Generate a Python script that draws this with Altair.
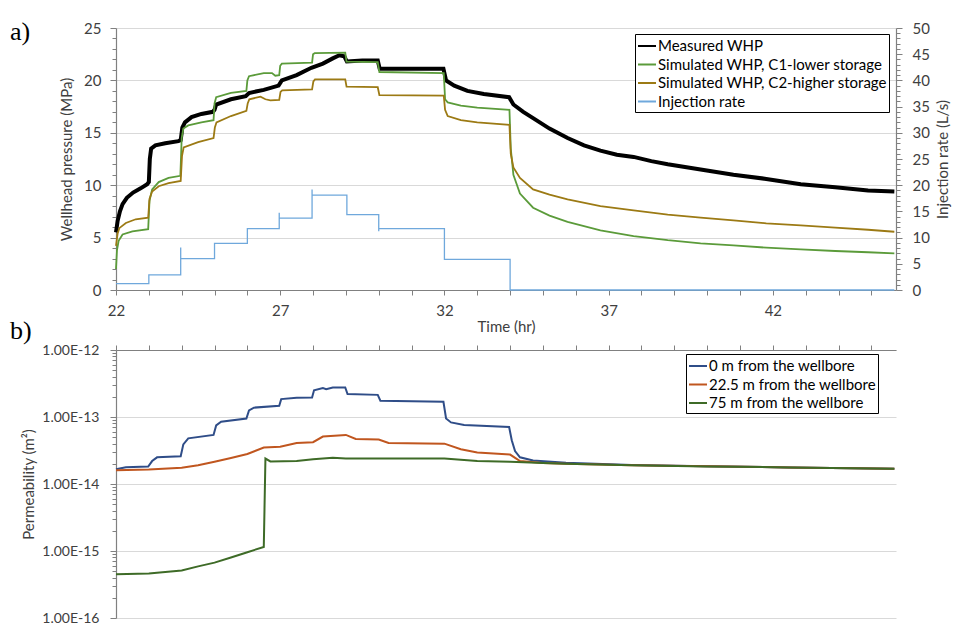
import altair as alt
import pandas as pd

FONT = "Lato"
AXIS_GREY = "#808080"
TEXT = "#404040"
GRID = "#d9d9d9"

# ---------------- a) wellhead pressure and injection rate ----------------
measured_t = [22.0, 22.05, 22.12, 22.2, 22.33, 22.52, 22.75, 22.95, 23.0, 23.03, 23.07, 23.2, 23.5,
              23.9, 23.97, 24.02, 24.1, 24.3, 24.6, 24.95, 25.0, 25.05, 25.5, 25.95, 26.05, 26.5,
              26.95, 27.05, 27.5, 27.95, 28.3, 28.6, 28.8, 28.95, 29.03, 29.5, 29.97, 30.03, 31.0,
              31.97, 32.05, 32.3, 32.7, 33.2, 33.97, 34.1, 34.4, 34.7, 35.2, 35.75, 36.25, 36.75,
              37.25, 37.76, 38.3, 38.8, 39.8, 40.8, 41.8, 42.85, 43.9, 44.9, 45.7]
measured_p = [5.5, 6.6, 7.5, 8.2, 8.8, 9.3, 9.7, 10.1, 10.3, 12.5, 13.5, 13.8, 14.0,
              14.2, 14.3, 15.5, 16.0, 16.5, 16.8, 17.0, 17.2, 17.7, 18.2, 18.5, 18.8, 19.1,
              19.5, 20.0, 20.5, 21.2, 21.6, 22.1, 22.4, 22.3, 21.8, 21.9, 21.9, 21.1, 21.1,
              21.1, 20.0, 19.5, 19.0, 18.7, 18.4, 17.7, 17.0, 16.4, 15.4, 14.5, 13.8, 13.3,
              12.9, 12.7, 12.3, 12.0, 11.5, 11.0, 10.6, 10.1, 9.8, 9.5, 9.4]

c1_t = [22.0, 22.03, 22.08, 22.2, 22.5, 22.98, 23.02, 23.1, 23.3, 23.6, 23.96, 24.0, 24.05, 24.2,
        24.6, 24.97, 25.0, 25.05, 25.5, 25.97, 26.0, 26.05, 26.5, 26.75, 26.85, 26.97, 27.0, 27.05,
        27.97, 28.0, 28.05, 28.98, 29.02, 29.97, 30.02, 31.98, 32.02, 32.1, 32.5, 33.0, 33.98,
        34.02, 34.1, 34.3, 34.7, 35.2, 35.75, 36.75, 37.76, 38.8, 39.8, 40.8, 41.8, 42.85, 43.9,
        44.9, 45.7]
c1_p = [2.0, 3.8, 4.7, 5.3, 5.6, 5.8, 8.5, 9.6, 10.3, 10.7, 10.9, 14.5, 15.4, 15.7,
        16.0, 16.2, 17.8, 18.4, 18.8, 19.0, 20.0, 20.4, 20.7, 20.7, 20.45, 20.5, 21.4, 21.6,
        21.7, 22.5, 22.6, 22.65, 21.8, 21.75, 20.8, 20.7, 18.2, 17.9, 17.6, 17.4, 17.2,
        13.5, 11.0, 9.2, 7.85, 7.1, 6.5, 5.7, 5.15, 4.75, 4.45, 4.25, 4.04, 3.88, 3.72,
        3.6, 3.5]

c2_t = [22.0, 22.05, 22.1, 22.3, 22.6, 22.98, 23.02, 23.1, 23.3, 23.6, 23.97, 24.01, 24.06, 24.5,
        24.97, 25.01, 25.06, 25.5, 25.97, 26.01, 26.06, 26.4, 26.55, 26.7, 26.97, 27.01, 27.06,
        27.97, 28.01, 28.06, 28.98, 29.02, 29.97, 30.02, 31.98, 32.02, 32.1, 32.5, 33.0, 33.98,
        34.02, 34.1, 34.3, 34.7, 35.2, 35.75, 36.75, 37.76, 38.8, 39.8, 40.8, 41.8, 42.85, 43.9,
        44.9, 45.7]
c2_p = [4.2, 5.4, 5.9, 6.4, 6.75, 6.9, 8.7, 9.4, 9.9, 10.2, 10.4, 12.8, 13.6, 14.1,
        14.5, 15.5, 16.0, 16.6, 17.1, 17.8, 18.2, 18.45, 18.2, 18.1, 18.15, 18.9, 19.05,
        19.15, 19.9, 20.1, 20.1, 19.4, 19.35, 18.6, 18.55, 17.2, 16.6, 16.2, 16.0, 15.75,
        13.0, 11.7, 10.7, 9.6, 9.1, 8.65, 8.0, 7.6, 7.2, 6.9, 6.65, 6.36, 6.17, 5.95,
        5.75, 5.56]

rate_t = [22.0, 23.0, 23.0, 23.97, 23.97, 23.97, 25.0, 25.0, 26.0, 26.0, 26.97, 26.97, 26.97,
          27.97, 27.97, 27.97, 29.03, 29.03, 30.0, 30.0, 30.0, 32.0, 32.0, 34.0, 34.0, 45.7]
rate_q = [1.2, 1.2, 2.9, 2.9, 8.1, 6.0, 6.0, 8.9, 8.9, 11.7, 11.7, 14.75, 13.7,
          13.7, 19.2, 18.1, 18.1, 14.4, 14.4, 11.2, 11.7, 11.7, 5.85, 5.85, 0.0, 0.0]

# ---------------- b) permeability at distance from the wellbore ----------------
k0_t = [22.0, 22.3, 22.98, 23.1, 23.25, 23.97, 24.05, 24.2, 24.97, 25.05, 25.2, 25.97, 26.05,
        26.2, 26.97, 27.03, 27.5, 27.97, 28.03, 28.3, 28.4, 28.6, 28.98, 29.05, 29.97, 30.05,
        31.97, 32.05, 32.2, 32.6, 33.97, 34.05, 34.15, 34.3, 34.7, 35.7, 37.7, 40.0, 42.5, 45.7]
k0_v = [1.66e-14, 1.78e-14, 1.82e-14, 2.2e-14, 2.5e-14, 2.6e-14, 3.9e-14, 4.8e-14, 5.4e-14,
        7.5e-14, 8.5e-14, 9.5e-14, 1.25e-13, 1.38e-13, 1.47e-13, 1.85e-13, 1.93e-13, 1.95e-13,
        2.5e-13, 2.7e-13, 2.6e-13, 2.76e-13, 2.76e-13, 2.2e-13, 2.14e-13, 1.75e-13, 1.69e-13,
        9.5e-14, 8.3e-14, 7.6e-14, 7.1e-14, 4.5e-14, 3.1e-14, 2.5e-14, 2.25e-14, 2.07e-14,
        1.92e-14, 1.84e-14, 1.77e-14, 1.69e-14]

k22_t = [22.0, 23.0, 24.0, 24.5, 25.0, 25.5, 26.0, 26.5, 27.0, 27.5, 28.0, 28.3, 29.0, 29.3,
         30.0, 30.3, 32.0, 32.5, 33.0, 34.0, 34.3, 35.0, 35.7, 37.7, 40.0, 42.5, 45.7]
k22_v = [1.6e-14, 1.65e-14, 1.75e-14, 1.9e-14, 2.15e-14, 2.45e-14, 2.8e-14, 3.5e-14, 3.6e-14,
         4.1e-14, 4.2e-14, 5.1e-14, 5.4e-14, 4.7e-14, 4.6e-14, 4.1e-14, 4.0e-14, 3.3e-14,
         2.95e-14, 2.75e-14, 2.2e-14, 2.05e-14, 2.0e-14, 1.91e-14, 1.84e-14, 1.77e-14, 1.69e-14]

k75_t = [22.0, 23.0, 24.0, 24.5, 25.0, 25.5, 26.0, 26.5, 26.55, 26.7, 27.5, 28.0, 28.6, 29.0,
         30.0, 32.0, 33.0, 34.0, 35.0, 35.7, 37.7, 40.0, 42.5, 45.7]
k75_v = [4.5e-16, 4.6e-16, 5.1e-16, 5.9e-16, 6.7e-16, 8.0e-16, 9.6e-16, 1.15e-15, 2.4e-14,
         2.17e-14, 2.2e-14, 2.35e-14, 2.46e-14, 2.4e-14, 2.4e-14, 2.4e-14, 2.2e-14, 2.14e-14,
         2.05e-14, 2.0e-14, 1.9e-14, 1.83e-14, 1.77e-14, 1.69e-14]

whp_names = ["Measured WHP", "Simulated WHP, C1-lower storage",
             "Simulated WHP, C2-higher storage", "Injection rate"]
whp_colors = ["#000000", "#5B9B3A", "#9C7A14", "#6FA8DC"]
perm_names = ["0 m from the wellbore", "22.5 m from the wellbore", "75 m from the wellbore"]
perm_colors = ["#2F4D88", "#C0561F", "#3E6B27"]

hour_ticks = list(range(22, 46))
pressure_ticks = list(range(0, 26))
rate_ticks = list(range(0, 51))
log_ticks = [m * 10.0 ** d for d in range(-16, -12) for m in range(1, 10)] + [1e-12]


def frame(t, v, name):
    return pd.DataFrame({"time": t, "value": v, "series": name, "idx": range(len(t))})


whp_df = pd.concat([frame(measured_t, measured_p, whp_names[0]),
                    frame(c1_t, c1_p, whp_names[1]),
                    frame(c2_t, c2_p, whp_names[2])])
rate_df = frame(rate_t, rate_q, whp_names[3])
perm_df = pd.concat([frame(k0_t, k0_v, perm_names[0]),
                     frame(k22_t, k22_v, perm_names[1]),
                     frame(k75_t, k75_v, perm_names[2])])

x_scale = alt.Scale(domain=[22, 45.75], nice=False, zero=False)
major5 = "datum.value % 5 === 0"


def legend(x, y):
    return alt.Legend(title=None, orient="none", legendX=x, legendY=y, symbolType="stroke",
                      symbolSize=324, symbolStrokeWidth=2, labelFont=FONT, labelFontSize=15,
                      labelColor="black", labelOffset=1, strokeColor="black", fillColor="white",
                      padding=2, rowPadding=0.5, labelLimit=400)


x_top = alt.X("time:Q", scale=x_scale, title="Time (hr)",
              axis=alt.Axis(values=hour_ticks, labelExpr="(datum.value - 22) % 5 === 0 ? datum.label : ''",
                            labelOverlap=False, labelFlush=False, grid=False, tickSize=5,
                            labelPadding=8, titlePadding=1))
y_pressure = alt.Y("value:Q", scale=alt.Scale(domain=[0, 25], nice=False),
                   title="Wellhead pressure (MPa)",
                   axis=alt.Axis(values=pressure_ticks, labelExpr=f"{major5} ? datum.label : ''",
                                 labelOverlap=False, labelFlush=False,
                                 gridOpacity={"condition": {"test": major5, "value": 1}, "value": 0},
                                 tickSize={"condition": {"test": major5, "value": 6}, "value": 4},
                                 labelPadding=9, titlePadding=9))
y_rate = alt.Y("value:Q", scale=alt.Scale(domain=[0, 50], nice=False),
               title="Injection rate (L/s)",
               axis=alt.Axis(orient="right", values=rate_ticks, labelExpr=f"{major5} ? datum.label : ''",
                             labelOverlap=False, labelFlush=False, grid=False,
                             titleAngle=270, titleBaseline="top",
                             tickSize={"condition": {"test": major5, "value": 6}, "value": 4},
                             labelPadding=10, titlePadding=6))
color_top = alt.Color("series:N", scale=alt.Scale(domain=whp_names, range=whp_colors),
                      legend=legend(519, 6))

whp_base = alt.Chart(whp_df)
pressure_layers = alt.layer(
    whp_base.transform_filter(alt.datum.series == whp_names[0]).mark_line(strokeWidth=4)
    .encode(x=x_top, y=y_pressure, color=color_top, order="idx:Q"),
    whp_base.transform_filter(alt.datum.series == whp_names[1]).mark_line(strokeWidth=1.8)
    .encode(x=x_top, y=y_pressure, color=color_top, order="idx:Q"),
    whp_base.transform_filter(alt.datum.series == whp_names[2]).mark_line(strokeWidth=1.8)
    .encode(x=x_top, y=y_pressure, color=color_top, order="idx:Q"),
)
rate_layer = alt.Chart(rate_df).mark_line(strokeWidth=1.3).encode(
    x=x_top, y=y_rate, color=color_top, order="idx:Q")

top = alt.layer(pressure_layers, rate_layer).resolve_scale(y="independent").properties(
    width=780, height=262,
    title=alt.Title("a)", font="Liberation Serif", fontSize=26, fontWeight="normal",
                    color="black", anchor="start", frame="group", baseline="alphabetic",
                    dx=-106, dy=45, offset=0))

# ---------------- b) permeability ----------------
decade = "abs(log(datum.value) / LN10 - round(log(datum.value) / LN10)) < 0.001"
x_bottom = alt.X("time:Q", scale=x_scale, title=None,
                 axis=alt.Axis(orient="top", values=hour_ticks, labels=False, grid=False, tickSize=5))
y_perm = alt.Y("value:Q", scale=alt.Scale(type="log", domain=[1e-16, 1e-12], nice=False),
               title="Permeability (m²)",
               axis=alt.Axis(values=log_ticks,
                             labelExpr=f"{decade} ? upper(format(datum.value, '.2e')) : ''",
                             labelOverlap=False, labelFlush=False, labelFontSize=14,
                             gridOpacity={"condition": {"test": decade, "value": 1}, "value": 0},
                             tickSize={"condition": {"test": decade, "value": 6}, "value": 4},
                             labelPadding=11, titlePadding=5))
color_bottom = alt.Color("series:N", scale=alt.Scale(domain=perm_names, range=perm_colors),
                         legend=legend(570, 4))

perm_base = alt.Chart(perm_df)
bottom = alt.layer(*[
    perm_base.transform_filter(alt.datum.series == name).mark_line(strokeWidth=2)
    .encode(x=x_bottom, y=y_perm, color=color_bottom, order="idx:Q")
    for name in perm_names
]).properties(
    width=780, height=268,
    title=alt.Title("b)", font="Liberation Serif", fontSize=26, fontWeight="normal",
                    color="black", anchor="start", frame="group", baseline="alphabetic",
                    dx=-106, dy=26, offset=4))

chart = alt.vconcat(top, bottom, spacing=60, bounds="flush").resolve_scale(
    color="independent", x="independent").resolve_legend(color="independent").properties(
    padding={"left": 10, "top": 19, "right": 5, "bottom": 0}
).configure_view(strokeWidth=0).configure_axis(
    labelFont=FONT, labelFontSize=15, labelColor=TEXT, titleFont=FONT, titleFontSize=15,
    titleFontWeight="normal", titleColor=TEXT, domainColor=AXIS_GREY, tickColor=AXIS_GREY,
    gridColor=GRID, domainWidth=1.2
)

chart.save("out.html", embed_options={"renderer": "svg", "actions": False})
